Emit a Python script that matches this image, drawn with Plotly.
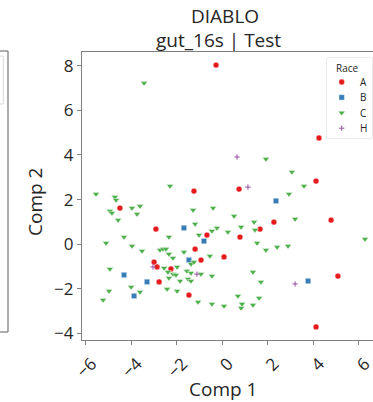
import plotly.graph_objects as go

# ---- data ----
race_a_x = [-0.27, 4.25, 0.74, -1.24, 4.12, -4.49, -2.91, 2.27, 1.66, -0.67, 0.78,
            4.78, -1.19, 0.08, -0.93, -2.99, -2.86, -2.25, -2.77, -1.46, 5.08, 4.12]
race_a_y = [8.03, 4.76, 2.47, 2.38, 2.83, 1.62, 0.68, 0.99, 0.68, 0.41, 0.32,
            1.08, -0.22, -0.57, -0.71, -0.80, -1.02, -1.11, -1.69, -2.28, -1.43, -3.71]

race_b_x = [2.36, -1.68, -0.80, -1.46, -4.31, -3.30, -3.87, 3.77]
race_b_y = [1.94, 0.73, 0.14, -0.71, -1.38, -1.69, -2.32, -1.65]

race_c_x = [-3.43, 1.92, 3.06, 3.59, 2.93, -5.54, -4.71, -4.66, -2.29, -4.93,
            -4.84, -3.96, -3.61, -3.74, -4.57, -2.34, -4.31, -5.10, -3.96, -3.52,
            -2.73, -2.60, -2.47, -2.34, -2.16, -2.55, -1.98, -2.38, -2.16, -2.03,
            -4.93, -2.34, -1.85, -4.00, -4.97, -3.61, -2.42, -1.98, -5.23, -1.28,
            -0.40, 0.52, 1.40, -1.19, -0.23, 0.83, -0.45, 1.44, 0.25, -1.02,
            1.53, 1.92, 3.20, 6.27, 2.41, 2.89, -1.68, -0.54, -1.37, -1.24,
            -1.55, -1.37, -0.93, -0.45, -1.50, -1.37, 1.35, 1.70, -1.06, -0.45,
            0.08, 0.69, 0.87, 0.83, 1.35, 1.62]
race_c_y = [7.22, 3.82, 3.24, 2.61, 2.25, 2.25, 2.12, 1.98, 2.61, 1.49,
            1.40, 1.62, 1.71, 1.35, 1.08, 0.32, 0.32, 0.05, -0.08, -0.30,
            -0.26, -0.22, -0.22, -0.44, -0.62, -1.07, -1.02, -1.25, -1.34, -1.38,
            -1.11, -1.51, -1.65, -1.92, -2.10, -2.14, -2.01, -2.10, -2.50, 1.53,
            1.62, 1.26, 0.99, 0.91, 0.73, 0.77, 0.59, 0.64, 0.55, 0.41,
            0.05, -0.26, 1.13, 0.23, -0.13, -0.08, -0.35, -0.53, -0.89, -0.80,
            -1.20, -1.29, -1.34, -1.43, -1.56, -1.65, -1.25, -1.69, -2.59, -2.68,
            -2.77, -2.32, -2.68, -2.86, -2.73, -2.41]

race_h_x = [0.65, 1.13, -3.04, -1.11, 3.20]
race_h_y = [3.91, 2.56, -1.02, -1.34, -1.78]

race_names = ["A", "B", "C", "H"]
x_ticks = [-6, -4, -2, 0, 2, 4, 6]
y_ticks = [-4, -2, 0, 2, 4, 6, 8]

title_line1 = "DIABLO"
title_line2 = "gut_16s | Test"
x_label = "Comp 1"
y_label = "Comp 2"
legend_title = "Race"

FONT = "Open Sans"
TXT = "#262626"
SPINE = "#808080"

W, H = 373, 402
L, R, T, B = 82, 0, 52, 62
pw, ph = W - L - R, H - T - B


def px_x(p):
    return (p - L) / pw


def px_y(p):
    return (H - B - p) / ph


def fmt(v):
    return ("\u2212" + str(-v)) if v < 0 else str(v)


styles = {
    "A": dict(symbol="circle", color="#e41a1c", size=5.8, line=dict(color="white", width=0.4)),
    "B": dict(symbol="square", color="#377eb8", size=5.4, line=dict(color="white", width=0.4)),
    "C": dict(symbol="triangle-down", color="#4daf4a", size=6.0, line=dict(color="white", width=0.4)),
    "H": dict(symbol="cross-thin", color="#984ea3", size=3.8, line=dict(color="#984ea3", width=1.0)),
}
data = {"A": (race_a_x, race_a_y), "B": (race_b_x, race_b_y),
        "C": (race_c_x, race_c_y), "H": (race_h_x, race_h_y)}

fig = go.Figure()
for name in race_names:
    xs, ys = data[name]
    fig.add_trace(go.Scatter(x=xs, y=ys, mode="markers", name=name,
                             marker=styles[name], showlegend=False))

# compact legend box (matplotlib style), drawn on a small overlay axis
LEG_L, LEG_R, LEG_T, LEG_B = 327, 372, 58, 138
for i, name in enumerate(race_names):
    fig.add_trace(go.Scatter(x=[14.7], y=[24 + 15.4 * i], mode="markers", name=name,
                             marker=styles[name], showlegend=False,
                             xaxis="x2", yaxis="y2", hoverinfo="skip"))
    fig.add_annotation(text=name, x=36, y=24 + 15.4 * i, xref="x2", yref="y2",
                       xanchor="center", yanchor="middle", showarrow=False,
                       font=dict(size=10, color=TXT, family=FONT))
fig.add_annotation(text=legend_title, x=20, y=9.5, xref="x2", yref="y2",
                   xanchor="center", yanchor="middle", showarrow=False,
                   font=dict(size=10, color=TXT, family=FONT))
fig.add_shape(type="rect", xref="paper", yref="paper", layer="below",
              x0=px_x(LEG_L), x1=px_x(LEG_R), y0=px_y(LEG_B), y1=px_y(LEG_T),
              line=dict(color="#d6d6d6", width=1), fillcolor="white")

fig.update_layout(
    width=W, height=H,
    margin=dict(l=L, r=R, t=T, b=B, pad=0),
    paper_bgcolor="white", plot_bgcolor="white",
    font=dict(family=FONT, color=TXT),
    showlegend=False,
    xaxis=dict(
        range=[-6.155, 6.62], tickvals=x_ticks, ticktext=[fmt(v) for v in x_ticks],
        tickangle=-45, tickfont=dict(size=17, color=TXT, family=FONT),
        ticks="outside", ticklen=4, tickwidth=1, tickcolor=SPINE,
        showline=True, linecolor=SPINE, linewidth=1.3, mirror=True,
        showgrid=False, zeroline=False, ticklabelshift=6, ticklabelstandoff=2,
        ticklabeloverflow="allow",
    ),
    yaxis=dict(
        range=[-4.294, 8.615], tickvals=y_ticks, ticktext=[fmt(v) for v in y_ticks],
        tickfont=dict(size=17, color=TXT, family=FONT),
        ticks="outside", ticklen=4, tickwidth=1, tickcolor=SPINE,
        showline=True, linecolor=SPINE, linewidth=1.3, mirror=False,
        showgrid=False, zeroline=False,
    ),
    xaxis2=dict(domain=[px_x(LEG_L), px_x(LEG_R)], anchor="y2", range=[0, LEG_R - LEG_L],
                visible=False, fixedrange=True),
    yaxis2=dict(domain=[px_y(LEG_B), px_y(LEG_T)], anchor="x2", range=[LEG_B - LEG_T, 0],
                visible=False, fixedrange=True),
)

ann = [
    dict(text=title_line1, x=px_x(224.7), y=px_y(16), size=19, angle=0, h=None),
    dict(text=title_line2, x=px_x(218.3), y=px_y(40), size=19, angle=0, h=None),
    dict(text=x_label, x=px_x(222.5), y=px_y(389), size=19, angle=0, h=22),
    dict(text=y_label, x=px_x(34.5), y=px_y(202.5), size=19, angle=-90, h=None),
]
for a in ann:
    kw = {}
    if a["h"]:
        kw["height"] = a["h"]
    fig.add_annotation(
        text=a["text"], x=a["x"], y=a["y"], xref="paper", yref="paper",
        xanchor="center", yanchor="middle", showarrow=False,
        textangle=a["angle"], font=dict(size=a["size"], color=TXT, family=FONT), **kw,
    )

# partial frame of the neighbouring panel on the left edge
frame = dict(color=SPINE, width=1.3)
fig.add_shape(type="line", xref="paper", yref="paper", x0=px_x(-2), x1=px_x(8), y0=px_y(51), y1=px_y(51), line=frame)
fig.add_shape(type="line", xref="paper", yref="paper", x0=px_x(8), x1=px_x(8), y0=px_y(51), y1=px_y(332), line=frame)
fig.add_shape(type="line", xref="paper", yref="paper", x0=px_x(-2), x1=px_x(8), y0=px_y(332), y1=px_y(332), line=frame)
box = dict(color="#d9d9d9", width=1)
fig.add_shape(type="line", xref="paper", yref="paper", x0=px_x(-2), x1=px_x(3.3), y0=px_y(56), y1=px_y(56), line=box)
fig.add_shape(type="line", xref="paper", yref="paper", x0=px_x(3.3), x1=px_x(3.3), y0=px_y(56), y1=px_y(104), line=box)
fig.add_shape(type="line", xref="paper", yref="paper", x0=px_x(-2), x1=px_x(3.3), y0=px_y(104), y1=px_y(104), line=box)

fig.write_html("out.html")
